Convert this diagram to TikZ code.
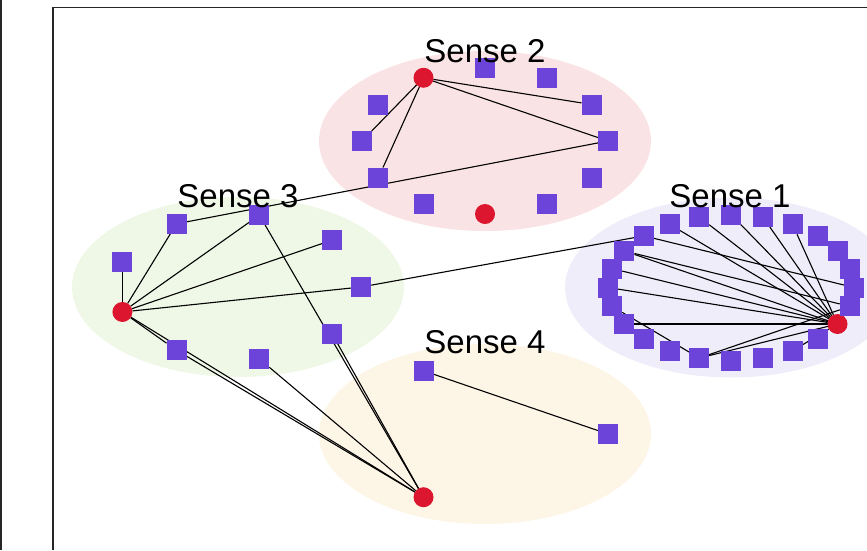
\documentclass[tikz,border=0pt]{standalone}
\usepackage{fontspec}
\setmainfont{Liberation Sans}
\pgfdeclarelayer{bg}
\pgfdeclarelayer{edgelayer}
\pgfsetlayers{bg,edgelayer,main}
\definecolor{sqpurple}{RGB}{108,68,217}
\definecolor{hubred}{RGB}{220,22,46}
\definecolor{blobpink}{RGB}{250,227,228}
\definecolor{blobgreen}{RGB}{239,247,231}
\definecolor{bloblav}{RGB}{240,237,251}
\definecolor{blobyellow}{RGB}{253,245,229}
\tikzset{
  sq/.style={rectangle, fill=sqpurple, minimum size=20pt, inner sep=0pt, outer sep=0pt},
  hub/.style={circle, fill=hubred, minimum size=20pt, inner sep=0pt, outer sep=0pt},
  link/.style={draw=black, line width=1.1pt},
  sensetitle/.style={font=\fontsize{33}{39}\selectfont, anchor=base, inner sep=0pt},
  framestroke/.style={draw=black!85, line width=1.8pt}
}
\begin{document}
\begin{tikzpicture}[x=1pt,y=-1pt]
\useasboundingbox (0,0) rectangle (867,550);
\clip (0,0) rectangle (867,550);

% shaded regions behind each sense
\begin{pgfonlayer}{bg}
  \fill[blobpink]   (485,141)   ellipse [x radius=166, y radius=90];
  \fill[blobgreen]  (238,287)   ellipse [x radius=166, y radius=90];
  \fill[bloblav]    (731,287.5) ellipse [x radius=166, y radius=90];
  \fill[blobyellow] (485,434)   ellipse [x radius=166, y radius=90];
\end{pgfonlayer}

% outer frame
\draw[framestroke] (1,0) -- (1,550);
\draw[framestroke] (53,550) -- (53,7.5) -- (867,7.5);

% Sense 1: 24 nodes, hub at 330 degrees
\foreach \k in {0,...,23} {
  \pgfmathsetmacro\ang{15*\k}
  \ifnum\k=22
    \node[hub] (s1-\k) at ({731+123*cos(\ang)},{287.5-73*sin(\ang)}) {};
  \else
    \node[sq] (s1-\k) at ({731+123*cos(\ang)},{287.5-73*sin(\ang)}) {};
  \fi
}
% Sense 2: 12 nodes, hubs at 120 and 270 degrees
\foreach \k in {0,...,11} {
  \pgfmathsetmacro\ang{30*\k}
  \ifnum\k=4
    \node[hub] (s2-\k) at ({485+123*cos(\ang)},{141-73*sin(\ang)}) {};
  \else\ifnum\k=9
    \node[hub] (s2-\k) at ({485+123*cos(\ang)},{141-73*sin(\ang)}) {};
  \else
    \node[sq] (s2-\k) at ({485+123*cos(\ang)},{141-73*sin(\ang)}) {};
  \fi\fi
}
% Sense 3: 9 nodes, hub at 200 degrees
\foreach \k in {0,...,8} {
  \pgfmathsetmacro\ang{40*\k}
  \ifnum\k=5
    \node[hub] (s3-\k) at ({238+123*cos(\ang)},{287-73*sin(\ang)}) {};
  \else
    \node[sq] (s3-\k) at ({238+123*cos(\ang)},{287-73*sin(\ang)}) {};
  \fi
}
% Sense 4: 3 nodes, hub at 240 degrees
\foreach \k in {0,1,2} {
  \pgfmathsetmacro\ang{120*\k}
  \ifnum\k=2
    \node[hub] (s4-\k) at ({485+123*cos(\ang)},{434-73*sin(\ang)}) {};
  \else
    \node[sq] (s4-\k) at ({485+123*cos(\ang)},{434-73*sin(\ang)}) {};
  \fi
}

% titles
\node[sensetitle] (t1) at (730,207) {Sense 1};
\node[sensetitle] (t2) at (485,62)  {Sense 2};
\node[sensetitle] (t3) at (238,207) {Sense 3};
\node[sensetitle] (t4) at (485,353) {Sense 4};

% connectors
\begin{pgfonlayer}{edgelayer}
  % Sense 1
  \foreach \j in {4,5,6,7,8,10,11,12,14,17,20}
    \draw[link] (s1-22) -- (s1-\j);
  \draw[link] (s1-9)  -- (s1-0);
  \draw[link] (s1-10) -- (s1-23);
  \draw[link] (s1-13) -- (s1-17);
  \draw[link] (s1-17) -- (s1-23);
  % Sense 2
  \foreach \j in {0,1,6,7}
    \draw[link] (s2-4) -- (s2-\j);
  % Sense 3
  \foreach \j in {0,1,2,3,4,6}
    \draw[link] (s3-5) -- (s3-\j);
  \foreach \j in {5,6,2,8,7}
    \draw[link] (s3-\j) -- (s4-2);
  % Sense 4
  \draw[link] (s4-1) -- (s4-0);
  % between senses
  \draw[link] (s3-0) -- (s1-9);
  \draw[link] (s3-3) -- (s2-0);
\end{pgfonlayer}
\end{tikzpicture}
\end{document}
